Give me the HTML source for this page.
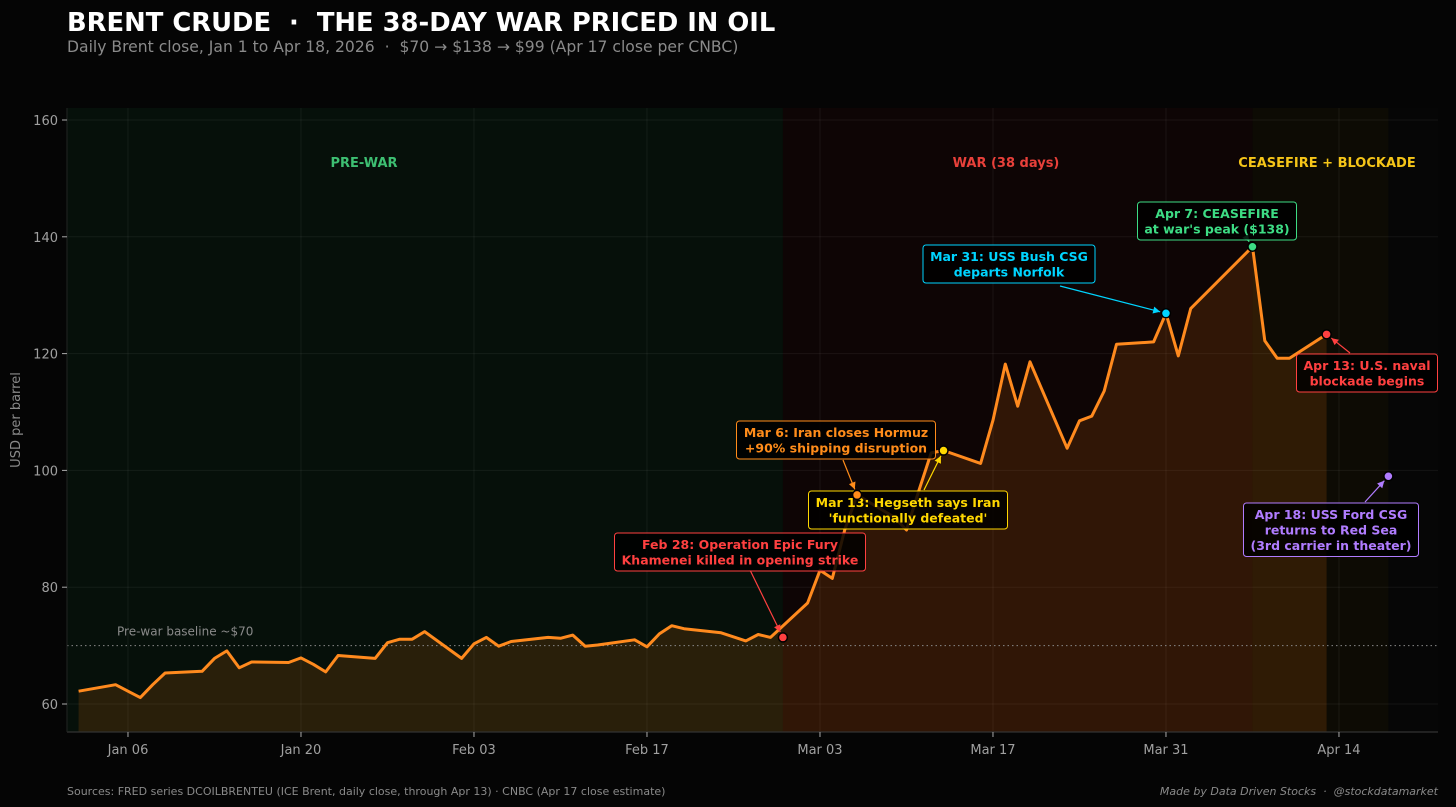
<!DOCTYPE html>
<html><head><meta charset="utf-8"><style>
html,body{margin:0;padding:0;background:#050505;}
svg{display:block;font-family:"DejaVu Sans","Liberation Sans",sans-serif;}
text{white-space:pre;}
</style></head><body>
<svg id="chart" width="1456" height="807" viewBox="0 0 1456 807" xmlns="http://www.w3.org/2000/svg">
<rect x="0" y="0" width="1456" height="807" fill="#050505"/>
<text x="67" y="31" fill="#ffffff" font-size="25.8" font-weight="bold" xml:space="preserve">BRENT CRUDE  ·  THE 38-DAY WAR PRICED IN OIL</text>
<text x="67" y="52" fill="#8a8a8a" font-size="15.6" xml:space="preserve">Daily Brent close, Jan 1 to Apr 18, 2026  ·  $70 → $138 → $99 (Apr 17 close per CNBC)</text>
<g id="plot"></g>
<text x="67" y="795" fill="#8a8a8a" font-size="11">Sources: FRED series DCOILBRENTEU (ICE Brent, daily close, through Apr 13) · CNBC (Apr 17 close estimate)</text>
<text x="1438" y="795" fill="#8a8a8a" font-size="11" font-style="italic" text-anchor="end" xml:space="preserve">Made by Data Driven Stocks  ·  @stockdatamarket</text>
</svg>
<script>
// day offsets from Jan 1 2026 and closing prices
const days = [1,4,6,7,8,11,12,13,14,15,18,19,20,21,22,25,26,27,28,29,32,33,34,35,36,39,40,41,42,43,46,47,48,49,50,53,55,56,57,60,61,62,63,64,67,68,69,70,71,74,75,76,77,78,81,82,83,84,85,88,89,90,91,96,97,98,99,102];
const prices = [62.2,63.3,61.1,63.3,65.3,65.6,67.8,69.1,66.2,67.2,67.1,67.9,66.8,65.5,68.3,67.8,70.5,71.1,71.1,72.4,67.8,70.3,71.4,69.9,70.7,71.4,71.25,71.8,69.9,70.1,71.0,69.8,72.0,73.4,72.9,72.2,70.8,71.9,71.4,77.3,82.9,81.5,89.8,95.8,92.0,89.8,96.5,103.0,103.4,101.2,108.6,118.2,111.0,118.6,103.8,108.5,109.3,113.6,121.6,122.0,126.9,119.6,127.7,138.3,122.2,119.2,119.2,123.3];
const yTicks = [60,80,100,120,140,160];
const xTickDays = [5,19,33,47,61,75,89,103];
const xTickLabels = ["Jan 06","Jan 20","Feb 03","Feb 17","Mar 03","Mar 17","Mar 31","Apr 14"];
const phaseStarts = [0,58,96];
const phaseEnds = [58,96,107];
const phaseNames = ["PRE-WAR","WAR (38 days)","CEASEFIRE + BLOCKADE"];
const baselineValue = 70;
const eventDays = [58,64,71,89,96,102,107];
const eventValues = [71.4,95.8,103.4,126.9,138.3,123.3,99.0];
const eventLabels = [
 ["Feb 28: Operation Epic Fury","Khamenei killed in opening strike"],
 ["Mar 6: Iran closes Hormuz","+90% shipping disruption"],
 ["Mar 13: Hegseth says Iran","'functionally defeated'"],
 ["Mar 31: USS Bush CSG","departs Norfolk"],
 ["Apr 7: CEASEFIRE","at war's peak ($138)"],
 ["Apr 13: U.S. naval","blockade begins"],
 ["Apr 18: USS Ford CSG","returns to Red Sea","(3rd carrier in theater)"]];

const NS="http://www.w3.org/2000/svg";
const L=67,R=1438,T=108,B=732;
const x=d=>66.2+d*12.357;
const y=v=>704-(v-60)*5.84;
const plot=document.getElementById('plot');
function mk(tag,attrs,parent){const e=document.createElementNS(NS,tag);for(const k in attrs)e.setAttribute(k,attrs[k]);(parent||plot).appendChild(e);return e;}

mk('rect',{x:L,y:T,width:R-L,height:B-T,fill:'#060606'});
const phaseFills=['#06100a','#0e0505','#0d0b04'];
const phaseColors=['#3dbf72','#e8403a','#f5c518'];
const phaseLabelX=[364,1006,1327];
phaseStarts.forEach((s,i)=>{
 const r=mk('rect',{x:x(s),y:T,width:x(phaseEnds[i])-x(s),height:B-T,fill:phaseFills[i]});
 
 
});
yTicks.forEach(v=>{mk('line',{x1:L,x2:R,y1:y(v),y2:y(v),stroke:'#ffffff',"stroke-opacity":0.06});});
xTickDays.forEach(d=>{mk('line',{x1:x(d),x2:x(d),y1:T,y2:B,stroke:'#ffffff',"stroke-opacity":0.06});});
let dp='M'+x(days[0])+','+B;
days.forEach((d,i)=>{dp+=' L'+x(d).toFixed(1)+','+y(prices[i]).toFixed(1);});
dp+=' L'+x(days[days.length-1]).toFixed(1)+','+B+' Z';
const area=mk('path',{d:dp,fill:'#ff7f0e','fill-opacity':0.14});


const bl=mk('line',{x1:L,x2:R,y1:y(baselineValue),y2:y(baselineValue),stroke:'#888','stroke-dasharray':'1.5,3','stroke-width':1});


const blt=mk('text',{x:117,y:y(baselineValue)-10,fill:'#8a8a8a','font-size':12});
blt.textContent='Pre-war baseline ~$'+baselineValue;


let lp='';
days.forEach((d,i)=>{lp+=(i?' L':'M')+x(d).toFixed(1)+','+y(prices[i]).toFixed(1);});
const line=mk('path',{d:lp,fill:'none',stroke:'#ff8a1e','stroke-width':3,'stroke-linejoin':'round'});


mk('line',{x1:L,x2:R,y1:B,y2:B,stroke:'#333','stroke-width':1.2});
mk('line',{x1:L,x2:L,y1:T,y2:B,stroke:'#222','stroke-width':1});
yTicks.forEach(v=>{
 mk('line',{x1:L-5,x2:L,y1:y(v),y2:y(v),stroke:'#aaa'});
 const t=mk('text',{x:L-9,y:y(v)+5,fill:'#a0a0a0','font-size':13,'text-anchor':'end'});
 t.textContent=v;
 
 
});
xTickDays.forEach((d,i)=>{
 mk('line',{x1:x(d),x2:x(d),y1:B,y2:B+5,stroke:'#aaa'});
 const t=mk('text',{x:x(d),y:B+22,fill:'#a0a0a0','font-size':13,'text-anchor':'middle'});
 t.textContent=xTickLabels[i];
 
 
});
const yl=mk('text',{x:0,y:0,fill:'#8a8a8a','font-size':13,'text-anchor':'middle',transform:'translate(20,420) rotate(-90)'});
yl.textContent='USD per barrel';


phaseNames.forEach((n,i)=>{
 const t=mk('text',{x:phaseLabelX[i],y:167,fill:phaseColors[i],'font-size':13,'font-weight':'bold','text-anchor':'middle'});
 t.textContent=n;
 
 
});
const evColors=['#ff4040','#ff8c1a','#ffd700','#00d4ff','#3ddc84','#ff4040','#b07cff'];
const boxCx=[740,836,908,1009,1217,1367,1331];
const boxTop=[533,421,491,245,202,354,503];
const arrowFrom=[[750,570],[843,460],[924,490],[1060,286],[1248,240],[1350,353],[1365,502]];
const boxW=[251,199,199,172,159,141,175];
const dots=[];
eventDays.forEach((d,i)=>{
 const px=x(d),py=y(eventValues[i]);
 const c=evColors[i];
 const a=arrowFrom[i];
 const ang=Math.atan2(py-a[1],px-a[0]);
 const ex=px-Math.cos(ang)*6, ey=py-Math.sin(ang)*6;
 mk('line',{x1:a[0],y1:a[1],x2:ex,y2:ey,stroke:c,'stroke-width':1.2});
 const hl=7,hw=3.5;
 const bx=ex-Math.cos(ang)*hl, by=ey-Math.sin(ang)*hl;
 mk('polygon',{points:`${ex},${ey} ${bx-Math.sin(ang)*hw},${by+Math.cos(ang)*hw} ${bx+Math.sin(ang)*hw},${by-Math.cos(ang)*hw}`,fill:c});
 const lines=eventLabels[i];
 const h=lines.length*15.5+7;
 const g=mk('g',{});
 
 
 mk('rect',{x:boxCx[i]-boxW[i]/2,y:boxTop[i],width:boxW[i],height:h,rx:3,fill:'#000','fill-opacity':0.85,stroke:c,'stroke-width':1},g);
 lines.forEach((s,j)=>{
  const t=mk('text',{x:boxCx[i],y:boxTop[i]+16+j*15.5,fill:c,'font-size':12.5,'font-weight':'bold','text-anchor':'middle'},g);
  t.textContent=s;
 });
 dots.push([px,py,c]);
});
dots.forEach(p=>{
 const dot=mk('circle',{cx:p[0],cy:p[1],r:4.5,fill:p[2],stroke:'#000','stroke-width':1.5});
 
 
});
</script>
</body></html>
